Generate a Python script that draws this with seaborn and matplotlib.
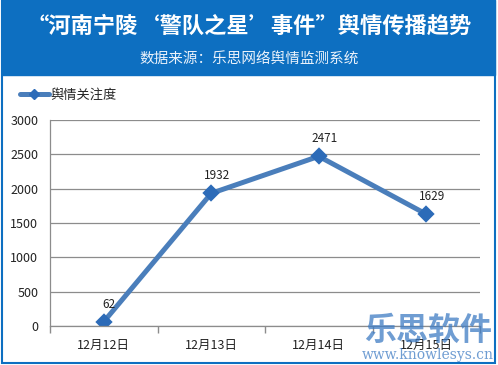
import matplotlib
matplotlib.use("Agg")
import matplotlib.pyplot as plt
import seaborn as sns
import pandas as pd
from matplotlib.patches import Rectangle
from matplotlib.lines import Line2D

# Data
dates = ["12月12日", "12月13日", "12月14日", "12月15日"]
attention = [62, 1932, 2471, 1629]
series_name = "舆情关注度"
title = "“河南宁陵‘警队之星’事件”舆情传播趋势"
subtitle = "数据来源：乐思网络舆情监测系统"

sns.set_theme(style="white")
plt.rcParams["font.family"] = ["Noto Sans CJK SC", "DejaVu Sans"]

df = pd.DataFrame({"date": dates, "value": attention})

fig = plt.figure(figsize=(4.98, 3.65), dpi=100)
ax = fig.add_axes([50 / 498, 39 / 365, 430 / 498, 206 / 365])

line_color = "#4A7EBB"
sns.pointplot(data=df, x="date", y="value", color=line_color, markers="D",
              linewidth=3.6, markersize=6.5, ax=ax, errorbar=None)
for line in ax.lines:
    line.set_markerfacecolor("#2C6BB8")
    line.set_markeredgecolor("#2C6BB8")

ax.set_ylim(0, 3000)
ax.set_xlim(-0.5, 3.5)
ax.set_yticks(range(0, 3001, 500))
ax.yaxis.grid(True, color="#8C8C8C", linewidth=0.9)
ax.set_axisbelow(True)
ax.set_xlabel("")
ax.set_ylabel("")
for s in ["top", "right"]:
    ax.spines[s].set_visible(False)
for s in ["left", "bottom"]:
    ax.spines[s].set_color("#8C8C8C")
    ax.spines[s].set_linewidth(0.9)
ax.tick_params(axis="x", which="major", length=0, labelsize=9, pad=9)
ax.tick_params(axis="y", length=5, color="#8C8C8C", labelsize=9, direction="out", left=False)
ax.set_xticks([-0.5, 0.5, 1.5, 2.5, 3.5], minor=True)
ax.tick_params(axis="x", which="minor", length=5, color="#8C8C8C", direction="out", bottom=True)
for lbl in ax.get_yticklabels() + ax.get_xticklabels():
    lbl.set_color("#222222")

for i, v in enumerate(attention):
    ax.annotate(str(v), (i, v), xytext=(4, 8), textcoords="offset points",
                ha="center", va="bottom", fontsize=8.5, color="#222222")

# Header
header_blue = "#0D6FC1"
fig.patches.append(Rectangle((2 / 498, 290 / 365), 493 / 498, 75 / 365,
                             transform=fig.transFigure, color=header_blue, zorder=0))
fig.patches.append(Rectangle((2 / 498, 2 / 365), 493 / 498, 362 / 365,
                             transform=fig.transFigure, fill=False,
                             edgecolor=header_blue, linewidth=1.5, zorder=5))
fig.text(0.5, 1 - 26 / 365, title, ha="center", va="center", color="white",
         fontsize=16, fontweight="bold")
fig.text(0.5, 1 - 60 / 365, subtitle, ha="center", va="center", color="#EAF2FB",
         fontsize=10.5)

# Legend
leg_handle = Line2D([], [], color=line_color, linewidth=3.6, marker="D",
                    markersize=5, markerfacecolor="#2C6BB8", markeredgecolor="#2C6BB8")
fig.legend([leg_handle], [series_name], loc="center left",
           bbox_to_anchor=(8 / 498, 1 - 95 / 365), frameon=False, fontsize=9.5,
           handlelength=2.2, handletextpad=0.1)

# Watermark (overlaps the last tick label, as in the source image)
fig.text(428 / 498, 1 - 331 / 365, "乐思软件", ha="center", va="center",
         color="#3F7CC4", alpha=0.75, fontsize=23, fontweight="bold", zorder=10)
fig.text(428 / 498, 1 - 355 / 365, "www.knowlesys.cn", ha="center", va="center",
         color="#3F7CC4", alpha=0.75, fontsize=10, family="DejaVu Serif", zorder=10)

fig.savefig("out.png", dpi=100)
